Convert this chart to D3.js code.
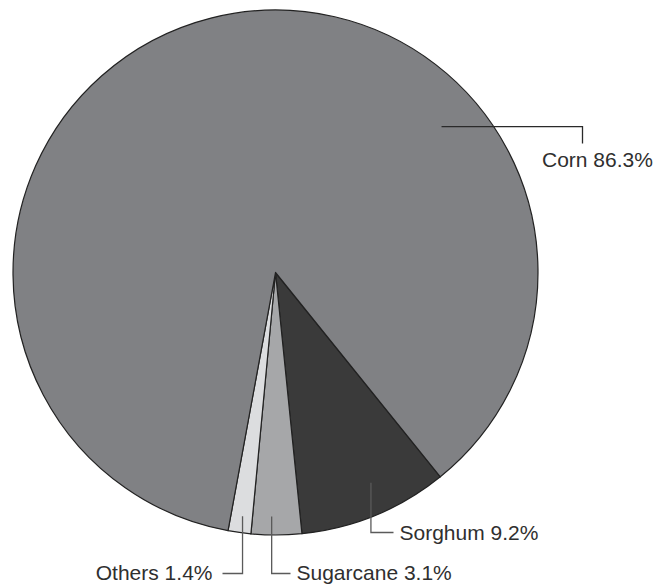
<!DOCTYPE html>
<html><head><meta charset="utf-8">
<script src="https://cdn.jsdelivr.net/npm/d3@7"></script>
<style>html,body{margin:0;padding:0;background:#fff;}svg{display:block;}</style>
</head><body>
<svg id="chart" width="656" height="587"></svg>
<script>
// Data (clockwise order starting from the Sorghum slice)
const categories = ["Sorghum", "Sugarcane", "Others", "Corn"];
const values = [9.2, 3.1, 1.4, 86.3];
const labels = ["Sorghum 9.2%", "Sugarcane 3.1%", "Others 1.4%", "Corn 86.3%"];
const colors = ["#3a3a3a", "#a6a7a9", "#dcdddf", "#808184"];

// Layout
const cx = 275.5, cy = 272.5, R = 262.5;
const startDeg = 141.1;
const deg = Math.PI / 180;
// leader: anchor angle (deg, clockwise from top), anchor radius, then elbow/label geometry
const leaders = [
  {ang: 155.6, r: 231, dir: "down", elbowY: 532.5, endX: 393.5, tx: 399.5, ty: 540, anchor: "start"},
  {ang: 180.9, r: 244, dir: "down", elbowY: 573.5, endX: 290.5, tx: 296.5, ty: 579.5, anchor: "start"},
  {ang: 187.7, r: 246, dir: "down", elbowY: 573.5, endX: 222.5, tx: 212.5, ty: 579.5, anchor: "end"},
  {ang: 48.7, r: 221, dir: "right", elbowX: 582.5, endY: 143.5, tx: 542, ty: 166.5, anchor: "start"}
];

const svg = d3.select("#chart");
const g = svg.append("g").attr("transform", `translate(${cx},${cy})`);

const pie = d3.pie().sort(null).value(d => d)
  .startAngle(startDeg * deg).endAngle(startDeg * deg + 2 * Math.PI);
const arc = d3.arc().innerRadius(0).outerRadius(R);
const arcs = pie(values);

g.selectAll("path.slice").data(arcs).join("path")
  .attr("class", "slice")
  .attr("d", arc)
  .attr("fill", (d, i) => colors[i])
  .attr("stroke", "#222")
  .attr("stroke-width", 1.2)
  .attr("stroke-linejoin", "round");

// leaders and labels
const lg = svg.append("g");
leaders.forEach((L, i) => {
  const x0 = cx + L.r * Math.sin(L.ang * deg);
  const y0 = cy - L.r * Math.cos(L.ang * deg);
  let pts;
  if (L.dir === "down") {
    pts = [[x0, y0], [x0, L.elbowY], [L.endX, L.elbowY]];
  } else {
    pts = [[x0, y0], [L.elbowX, y0], [L.elbowX, L.endY]];
  }
  lg.append("path")
    .attr("d", d3.line()(pts))
    .attr("fill", "none")
    .attr("stroke", i === 3 ? "#2a2a2a" : "#5a5a5a")
    .attr("stroke-width", 1.3);
  lg.append("text")
    .attr("x", L.tx).attr("y", L.ty)
    .attr("text-anchor", L.anchor)
    .attr("font-family", "'Liberation Sans', Arial, Helvetica, sans-serif")
    .attr("font-size", 21)
    .attr("fill", "#2f2f2f")
    .text(labels[i]);
});
</script>
</body></html>
